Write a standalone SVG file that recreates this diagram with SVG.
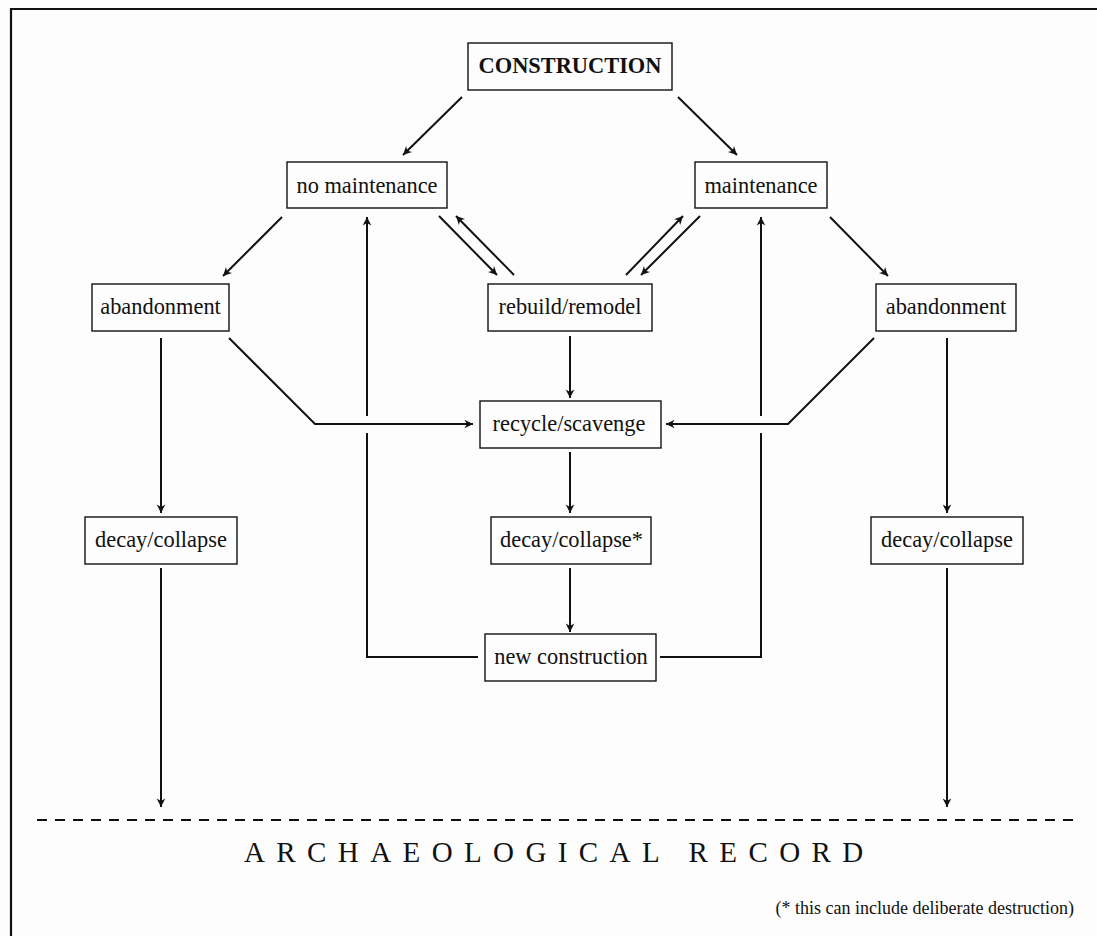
<svg xmlns="http://www.w3.org/2000/svg" width="1097" height="936" viewBox="0 0 1097 936">
<style>
.box{fill:none;stroke:#111;stroke-width:1.4}
.lbl{font-family:"Liberation Serif","Times New Roman",serif;font-size:22.4px;fill:#111;text-anchor:middle}
.bold{font-weight:bold}
.con{fill:none;stroke:#111;stroke-width:2;marker-end:url(#ah)}
</style>
<defs>
<marker id="ah" viewBox="-10 -6 12 12" refX="0" refY="0" markerWidth="12" markerHeight="12" markerUnits="userSpaceOnUse" orient="auto">
<path d="M-8.5,-4.3 L0,0 L-8.5,4.3 L-6,0 z" fill="#111"/>
</marker>
</defs>
<rect x="0" y="0" width="1097" height="936" fill="#fdfdfd"/>
<g id="frame">
<path d="M11,936 L11,9 L1097,9" fill="none" stroke="#111" stroke-width="2.2"/>
</g>
<g id="connectors">
<path class="con" d="M462,97 L403,155"/>
<path class="con" d="M678,97 L737,155"/>
<path class="con" d="M282,217 L223,276"/>
<path class="con" d="M830,217 L888,276"/>
<path class="con" d="M439,216 L497,275"/>
<path class="con" d="M514,275 L456,216"/>
<path class="con" d="M626,275 L683,216"/>
<path class="con" d="M700,216 L641,275"/>
<path class="con" d="M229,338 L315,424 L473,424"/>
<path class="con" d="M874,338 L788,424 L666,424"/>
<path class="con" d="M570,336 L570,398"/>
<path class="con" d="M570,452 L570,513"/>
<path class="con" d="M570,568 L570,632"/>
<path class="con" d="M478,657 L367,657 L367,433 M367,416 L367,217"/>
<path class="con" d="M660,657 L761,657 L761,433 M761,416 L761,217"/>
<path class="con" d="M161,338 L161,513"/>
<path class="con" d="M947,338 L947,513"/>
<path class="con" d="M161,568 L161,807"/>
<path class="con" d="M947,568 L947,807"/>
</g>
<g id="record-line">
<path d="M37,820 L1079,820" fill="none" stroke="#111" stroke-width="2" stroke-dasharray="10 8"/>
</g>
<g id="construction">
<rect class="box" x="468" y="43" width="204" height="47"/>
<text class="lbl bold" x="570" y="73">CONSTRUCTION</text>
</g>
<g id="no-maintenance">
<rect class="box" x="287" y="162" width="160" height="46"/>
<text class="lbl" x="367" y="193">no maintenance</text>
</g>
<g id="maintenance">
<rect class="box" x="695" y="162" width="132" height="46"/>
<text class="lbl" x="761" y="193">maintenance</text>
</g>
<g id="abandonment-left">
<rect class="box" x="92" y="284" width="137" height="47"/>
<text class="lbl" x="160.5" y="314">abandonment</text>
</g>
<g id="rebuild-remodel">
<rect class="box" x="488" y="284" width="164" height="47"/>
<text class="lbl" x="570" y="314">rebuild/remodel</text>
</g>
<g id="abandonment-right">
<rect class="box" x="876" y="284" width="140" height="47"/>
<text class="lbl" x="946" y="314">abandonment</text>
</g>
<g id="recycle-scavenge">
<rect class="box" x="480" y="401" width="181" height="47"/>
<text class="lbl" x="569" y="431">recycle/scavenge</text>
</g>
<g id="decay-left">
<rect class="box" x="85" y="517" width="152" height="47"/>
<text class="lbl" x="161" y="547">decay/collapse</text>
</g>
<g id="decay-center">
<rect class="box" x="491" y="517" width="160" height="47"/>
<text class="lbl" x="571.5" y="547">decay/collapse*</text>
</g>
<g id="decay-right">
<rect class="box" x="871" y="517" width="152" height="47"/>
<text class="lbl" x="947" y="547">decay/collapse</text>
</g>
<g id="new-construction">
<rect class="box" x="485" y="634" width="171" height="47"/>
<text class="lbl" x="571" y="664">new construction</text>
</g>
<g id="labels">
<text x="244" y="862" font-family="'Liberation Serif','Times New Roman',serif" font-size="29" letter-spacing="11.4" fill="#111">ARCHAEOLOGICAL RECORD</text>
<text x="1074" y="914" font-family="'Liberation Serif','Times New Roman',serif" font-size="18" fill="#111" text-anchor="end">(* this can include deliberate destruction)</text>
</g>
</svg>
